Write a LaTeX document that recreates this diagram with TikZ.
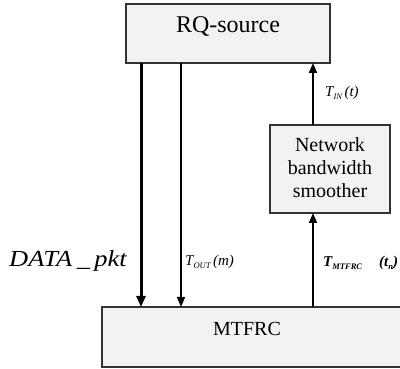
\documentclass[tikz,border=0pt]{standalone}
\usepackage{fontspec}
\setmainfont{Liberation Serif}
\usetikzlibrary{arrows.meta}
\newcommand{\lowsub}[1]{\raisebox{-0.45ex}{\fontsize{8.5}{9}\selectfont #1}}
\begin{document}
\begin{tikzpicture}[x=1pt,y=-1pt,
  blockbox/.style={draw=black!80,line width=1.3pt,fill=black!5},
  flow/.style={draw=black,line width=1.8pt,-{Triangle[length=10pt,width=8pt]}},
  thickflow/.style={flow,line width=3pt,-{Triangle[length=11pt,width=9pt]}},
  thinflow/.style={flow,line width=1.5pt},
  sig/.style={font=\fontsize{15}{17}\selectfont\itshape,anchor=west,inner sep=0pt}]
\useasboundingbox (0,0) rectangle (400,369);
\begin{scope}
\clip (0,0) rectangle (400,369);
% blocks
\draw[blockbox] (126,4) rectangle (330,63);
\node[inner sep=0pt,font=\fontsize{24}{28}\selectfont] (rq) at (228,27) {RQ-source};
\draw[blockbox] (270,125) rectangle (390,213);
\node[inner sep=0pt,align=center,font=\fontsize{20}{23}\selectfont] (nbs) at (330,168) {Network\\bandwidth\\smoother};
\draw[blockbox] (102,307) rectangle (404,367);
\node[inner sep=0pt,font=\fontsize{20}{24}\selectfont] (mt) at (247,329) {MTFRC};
% anchor points on block edges
\coordinate (rqA) at (141,63);
\coordinate (rqB) at (181,63);
\coordinate (rqC) at (313,63);
\coordinate (mtA) at (141,307);
\coordinate (mtB) at (181,307);
\coordinate (mtC) at (313,307);
\coordinate (nbTop) at (313,125);
\coordinate (nbBot) at (313,213);
% connectors
\draw[thickflow] (rqA) -- (mtA);
\draw[thinflow] (rqB) -- (mtB);
\draw[flow] (mtC) -- (nbBot);
\draw[flow] (nbTop) -- (rqC);
% labels
\node[inner sep=0pt,anchor=west,font=\fontsize{23}{26}\selectfont\itshape] (dp) at (9,261) {\scalebox{1.15}[1]{DATA\,\_\,pkt}};
\node[sig] (tout) at (185,262) {T\lowsub{OUT}\,(m)};
\node[sig] (tin) at (325,93) {T\lowsub{IN}\,(t)};
\node[sig,font=\fontsize{15}{17}\selectfont\bfseries\itshape] (tm) at (323,263) {T\lowsub{MTFRC}\hspace{17pt}(t\lowsub{n})};
\end{scope}
\end{tikzpicture}
\end{document}
